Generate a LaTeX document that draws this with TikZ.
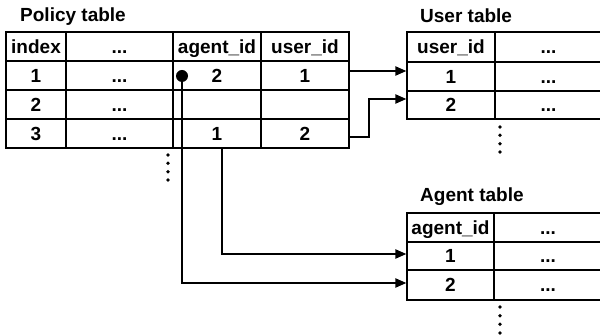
\documentclass[tikz,border=0pt]{standalone}
\usepackage{fontspec}
\setmainfont{Liberation Sans}
\usetikzlibrary{arrows.meta}
\newcommand\tcell[6]{\node[cell, minimum width={(#4-#2)*1pt}, minimum height={(#5-#3)*1pt}] (#1) at ({(#2+#4)/2},{(#3+#5)/2}) {#6};}
\begin{document}
\begin{tikzpicture}[x=1pt,y=-1pt,
  font=\bfseries\fontsize{19}{22}\selectfont,
  cell/.style={draw, line width=1.2pt, inner sep=0pt, text height=13.6pt, text depth=0pt},
  conn/.style={line width=2pt, -{Triangle[length=11pt,width=9pt]}},
  title/.style={anchor=base west, inner sep=0pt},
  vdot/.style={fill, circle, inner sep=0pt, minimum size=3.8pt}
]
\useasboundingbox (0,0) rectangle (600,336);
% titles
\node[title] (tpol) at (20,22) {Policy table};
\node[title] (tusr) at (420,23) {User table};
\node[title] (tagt) at (420,202) {Agent table};
% policy table
\tcell{p01}{6}{32}{66}{61}{index}
\tcell{p02}{66}{32}{173}{61}{...}
\tcell{p03}{173}{32}{261}{61}{agent\_id}
\tcell{p04}{261}{32}{349}{61}{user\_id}
\tcell{p11}{6}{61}{66}{90}{1}
\tcell{p12}{66}{61}{173}{90}{...}
\tcell{p13}{173}{61}{261}{90}{2}
\tcell{p14}{261}{61}{349}{90}{1}
\tcell{p21}{6}{90}{66}{119}{2}
\tcell{p22}{66}{90}{173}{119}{...}
\tcell{p23}{173}{90}{261}{119}{}
\tcell{p24}{261}{90}{349}{119}{}
\tcell{p31}{6}{119}{66}{148}{3}
\tcell{p32}{66}{119}{173}{148}{...}
\tcell{p33}{173}{119}{261}{148}{1}
\tcell{p34}{261}{119}{349}{148}{2}
% user table
\tcell{u0}{407}{32}{495}{62}{user\_id}
\tcell{u0b}{495}{32}{602}{62}{...}
\tcell{u1}{407}{62}{495}{91}{1}
\tcell{u1b}{495}{62}{602}{91}{...}
\tcell{u2}{407}{91}{495}{119}{2}
\tcell{u2b}{495}{91}{602}{119}{...}
% agent table
\tcell{a0}{407}{213}{494}{242}{agent\_id}
\tcell{a0b}{494}{213}{602}{242}{...}
\tcell{a1}{407}{242}{494}{270}{1}
\tcell{a1b}{494}{242}{602}{270}{...}
\tcell{a2}{407}{270}{494}{300}{2}
\tcell{a2b}{494}{270}{602}{300}{...}
% vertical ellipses
\foreach \yy [count=\i] in {155,163.3,171.7,180} {\node[vdot] (pd\i) at (168,\yy) {};}
\foreach \yy [count=\i] in {127,135.3,143.7,152} {\node[vdot] (ud\i) at (500,\yy) {};}
\foreach \yy [count=\i] in {307,315.7,324.3,333} {\node[vdot] (ad\i) at (500,\yy) {};}
% start dot
\node[fill, circle, inner sep=0pt, minimum size=12pt] (pdot) at (182,76) {};
% connectors
\draw[conn] ([yshift=5.5pt]u1.west -| p14.east) -- ([yshift=5.5pt]u1.west);
\draw[conn] ([yshift=-3.5pt]p34.east) -- ++(19,0) |- ([yshift=6pt]u2.west);
\draw[conn] ([xshift=5pt]p33.south) |- ([yshift=2pt]a1.west);
\draw[conn] (pdot.center) |- ([yshift=2pt]a2.west);
\end{tikzpicture}
\end{document}
